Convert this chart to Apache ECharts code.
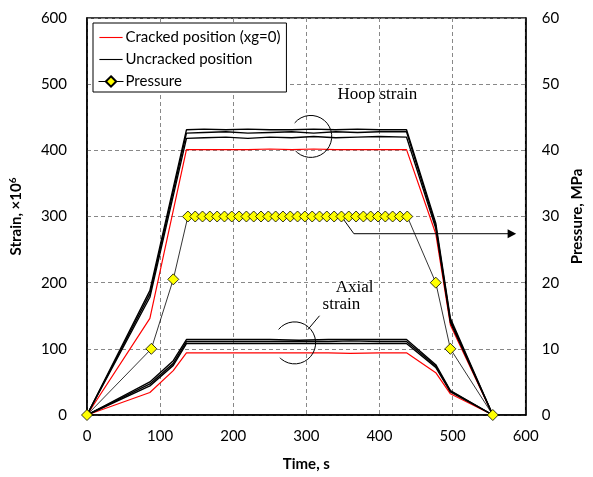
<!DOCTYPE html>
<html>
<head>
<meta charset="utf-8">
<script src="https://cdn.jsdelivr.net/npm/echarts@6/dist/echarts.min.js"></script>
<style>
  html, body { margin: 0; padding: 0; background: #ffffff; }
  #chart { width: 593px; height: 477px; }
</style>
</head>
<body>
<div id="chart"></div>
<script>
// Hoop strain gauges (time in s, strain ×10^6)
const hoopTime       = [0, 86, 136, 160, 190, 220, 250, 280, 310, 340, 370, 400, 437, 477, 497, 555];
const hoopUncracked1 = [0, 188, 431, 432, 431, 432, 431, 431, 432, 431, 432, 431, 431, 290, 146, 0];
const hoopUncracked2 = [0, 183, 426, 427, 428, 426, 427, 428, 426, 428, 427, 428, 428, 286, 143, 0];
const hoopUncracked3 = [0, 178, 418, 419, 420, 418, 420, 419, 421, 419, 420, 421, 420, 282, 140, 0];
const hoopCracked    = [0, 146, 401, 401, 401, 401, 402, 401, 402, 401, 401, 401, 401, 274, 136, 0];

// Axial strain gauges
const axialTime       = [0, 86, 118, 136, 170, 210, 250, 290, 330, 360, 400, 437, 477, 497, 555];
const axialUncracked1 = [0, 50, 82, 114, 114, 114, 114, 113, 114, 114, 114, 114, 76, 37, 0];
const axialUncracked2 = [0, 47, 78, 111, 111, 111, 111, 111, 111, 112, 111, 111, 74, 36, 0];
const axialUncracked3 = [0, 44, 75, 108, 108, 108, 108, 108, 108, 108, 108, 108, 72, 35, 0];
const axialCracked    = [0, 34, 67, 94, 94, 94, 94, 94, 94, 93, 94, 94, 64, 32, 0];

// Internal pressure (MPa)
const pressureTime = [0, 88, 118, 138, 148, 158, 168, 178, 188, 198, 208, 218, 228, 238, 248, 258, 268, 278,
                      288, 298, 308, 318, 328, 338, 348, 358, 368, 378, 388, 398, 408, 418, 428, 438, 477, 497, 555];
const pressureValue = [0, 10, 20.5, 30, 30, 30, 30, 30, 30, 30, 30, 30, 30, 30, 30, 30, 30, 30,
                       30, 30, 30, 30, 30, 30, 30, 30, 30, 30, 30, 30, 30, 30, 30, 30, 20, 10, 0];

const NAME_CRACKED = 'Cracked position (xg=0)';
const NAME_UNCRACKED = 'Uncracked position';
const NAME_PRESSURE = 'Pressure';

const zip = (xs, ys) => xs.map((x, i) => [x, ys[i]]);
const FONT = 'Lato, "Open Sans", sans-serif';
// plain horizontal stroke used as legend key for the strain lines
const LINE_ICON = 'path://M0,0M25,14M0,6.4H25V7.6H0Z';

function strainLine(name, times, vals, color, width) {
  return {
    name, type: 'line', xAxisIndex: 0, yAxisIndex: 0,
    data: zip(times, vals), symbol: 'none', smooth: false,
    lineStyle: { color, width }, itemStyle: { color },
    emphasis: { disabled: true }
  };
}

const chart = echarts.init(document.getElementById('chart'), null, { renderer: 'canvas' });

const option = {
  animation: false,
  backgroundColor: '#ffffff',
  grid: { left: 85, right: 61, top: 18, bottom: 59, show: true, borderColor: '#000', borderWidth: 1.5, containLabel: false },
  legend: {
    orient: 'vertical', left: 93, top: 23,
    data: [
      { name: NAME_CRACKED, icon: LINE_ICON, itemStyle: { color: '#ff0000' } },
      { name: NAME_UNCRACKED, icon: LINE_ICON, itemStyle: { color: '#000' } },
      { name: NAME_PRESSURE, lineStyle: { width: 1 } }
    ],
    borderColor: '#000', borderWidth: 1, backgroundColor: '#fff',
    padding: [7, 6, 3, 5], itemGap: 7, itemWidth: 25, itemHeight: 13,
    textStyle: { fontFamily: FONT, fontSize: 15, color: '#000', padding: [0, 0, 0, -3] },
    selectedMode: false
  },
  xAxis: {
    type: 'value', min: 0, max: 600, interval: 100,
    name: 'Time, s', nameLocation: 'middle', nameGap: 42,
    nameTextStyle: { fontFamily: FONT, fontSize: 15, fontWeight: 'bold', color: '#000' },
    axisLine: { show: true, lineStyle: { color: '#000', width: 1.5 } },
    axisTick: { show: false },
    axisLabel: { fontFamily: FONT, fontSize: 15, color: '#000', margin: 14 },
    splitLine: { show: true, lineStyle: { color: '#888', type: [4, 3], width: 1 } }
  },
  yAxis: [
    {
      type: 'value', min: 0, max: 600, interval: 100, position: 'left',
      name: 'Strain, ×10{sup|6}', nameLocation: 'middle', nameGap: 62, nameRotate: 90,
      nameTextStyle: {
        fontFamily: FONT, fontSize: 15, fontWeight: 'bold', color: '#000',
        rich: { sup: { fontFamily: FONT, fontSize: 10, fontWeight: 'bold', color: '#000', verticalAlign: 'top', padding: [0, 0, 7, 0] } }
      },
      axisLine: { show: true, lineStyle: { color: '#000', width: 1.5 } },
      axisTick: { show: false },
      axisLabel: { fontFamily: FONT, fontSize: 15, color: '#000', margin: 20 },
      splitLine: { show: true, lineStyle: { color: '#888', type: [4, 3], width: 1 } }
    },
    {
      type: 'value', min: 0, max: 60, interval: 10, position: 'right',
      name: 'Pressure, MPa', nameLocation: 'middle', nameGap: 37, nameRotate: 90,
      nameTextStyle: { fontFamily: FONT, fontSize: 15, fontWeight: 'bold', color: '#000' },
      axisLine: { show: true, lineStyle: { color: '#000', width: 1.5 } },
      axisTick: { show: false },
      axisLabel: { fontFamily: FONT, fontSize: 15, color: '#000', margin: 16 },
      splitLine: { show: false }
    }
  ],
  series: [
    strainLine(NAME_CRACKED, hoopTime, hoopCracked, '#ff0000', 1.2),
    strainLine(NAME_CRACKED, axialTime, axialCracked, '#ff0000', 1.2),
    strainLine(NAME_UNCRACKED, hoopTime, hoopUncracked1, '#000', 1.4),
    strainLine(NAME_UNCRACKED, hoopTime, hoopUncracked2, '#000', 1.4),
    strainLine(NAME_UNCRACKED, hoopTime, hoopUncracked3, '#000', 1.4),
    strainLine(NAME_UNCRACKED, axialTime, axialUncracked1, '#000', 1.4),
    strainLine(NAME_UNCRACKED, axialTime, axialUncracked2, '#000', 1.4),
    strainLine(NAME_UNCRACKED, axialTime, axialUncracked3, '#000', 1.4),
    {
      name: NAME_PRESSURE, type: 'line', xAxisIndex: 0, yAxisIndex: 1,
      data: zip(pressureTime, pressureValue),
      symbol: 'diamond', symbolSize: 11, showAllSymbol: true,
      lineStyle: { color: '#000', width: 0.8 },
      itemStyle: { color: '#ffff00', borderColor: '#000', borderWidth: 0.8 },
      emphasis: { disabled: true }, z: 5
    }
  ]
};

chart.setOption(option);

// Callout annotations placed in data coordinates
const px = (t, s) => chart.convertToPixel({ xAxisIndex: 0, yAxisIndex: 0 }, [t, s]);
const pp = (t, p) => chart.convertToPixel({ xAxisIndex: 0, yAxisIndex: 1 }, [t, p]);
const deg = d => d * Math.PI / 180;

const hoopLabel = px(397, 484);
const axialLabel1 = px(366, 193);
const axialLabel2 = px(348, 167);
const hoopRing = px(306, 421);
const axialRing = px(284, 109);
const leadA = px(302, 129);
const leadB = px(318, 150);
const arrowStart = pp(348, 30);
const arrowBend = pp(365, 27.4);
const arrowEnd = pp(578, 27.4);
const arrowTip = pp(587, 27.4);

const SERIF = '"Liberation Serif", "DejaVu Serif", serif';
chart.setOption({
  graphic: [
    { type: 'text', x: hoopLabel[0], y: hoopLabel[1], style: { text: 'Hoop strain', font: '17px ' + SERIF, fill: '#000', align: 'center', verticalAlign: 'middle' }, z: 10 },
    { type: 'text', x: axialLabel1[0], y: axialLabel1[1], style: { text: 'Axial', font: '17px ' + SERIF, fill: '#000', align: 'center', verticalAlign: 'middle' }, z: 10 },
    { type: 'text', x: axialLabel2[0], y: axialLabel2[1], style: { text: 'strain', font: '17px ' + SERIF, fill: '#000', align: 'center', verticalAlign: 'middle' }, z: 10 },
    { type: 'arc', shape: { cx: hoopRing[0], cy: hoopRing[1], r: 21, startAngle: deg(-140), endAngle: deg(137), clockwise: true }, style: { stroke: '#000', lineWidth: 1, fill: null }, z: 10 },
    { type: 'arc', shape: { cx: axialRing[0], cy: axialRing[1], r: 21, startAngle: deg(-140), endAngle: deg(135), clockwise: true }, style: { stroke: '#000', lineWidth: 1, fill: null }, z: 10 },
    { type: 'line', shape: { x1: leadA[0], y1: leadA[1], x2: leadB[0], y2: leadB[1] }, style: { stroke: '#000', lineWidth: 1 }, z: 10 },
    { type: 'polyline', shape: { points: [arrowStart, arrowBend, arrowEnd] }, style: { stroke: '#000', lineWidth: 1, fill: null }, z: 4 },
    { type: 'polygon', shape: { points: [arrowTip, [arrowEnd[0] - 2, arrowEnd[1] - 4.5], [arrowEnd[0] - 2, arrowEnd[1] + 4.5]] }, style: { fill: '#000' }, z: 4 }
  ]
});
</script>
</body>
</html>
